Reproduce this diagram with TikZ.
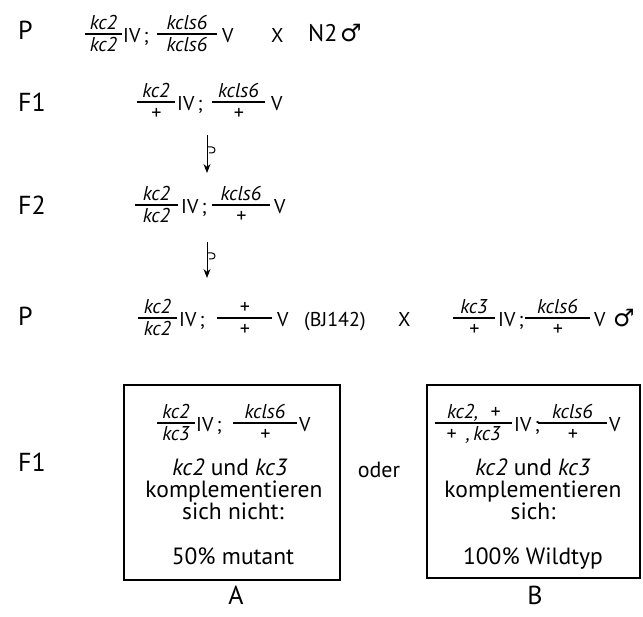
\documentclass[tikz,border=0pt]{standalone}
\usepackage{fontspec}
\setmainfont{PT Sans}
\newfontfamily\symfont{DejaVu Sans}
\usetikzlibrary{arrows.meta}
% name, x-centre, bar y, bar width, numerator, denominator
\newcommand\gfrac[6]{%
  \node[gnum] (#1n) at (#2,#3) {#5};
  \node[gden] (#1d) at (#2,#3) {#6};
  \draw[gbar] ({#2-#4/2},#3) -- ({#2+#4/2},#3);}
\begin{document}
\begin{tikzpicture}[x=1pt,y=-1pt,
  lab/.style={font=\fontsize{26}{28}\selectfont, anchor=base west, inner sep=0},
  gnum/.style={font=\fontsize{20}{22}\selectfont\itshape, anchor=base, inner sep=0, yshift=4pt},
  gden/.style={font=\fontsize{20}{22}\selectfont\itshape, anchor=base, inner sep=0, yshift=-18pt},
  gbar/.style={line width=1.1pt},
  gtxt/.style={font=\fontsize{20}{22}\selectfont, anchor=base west, inner sep=0},
  ctxt/.style={font=\fontsize{23.5}{25}\selectfont, anchor=base, inner sep=0},
  male/.style={font=\symfont\fontsize{24}{26}\selectfont, anchor=base west, inner sep=0},
  resbox/.style={draw, line width=1.6pt},
  self/.style={line width=1pt, -{Stealth[length=9pt,width=7pt]}},
  flag/.style={line width=1pt}]
\useasboundingbox (0,0) rectangle (643,617);

% ---- row 1: P
\node[lab] (p1) at (18,40) {P};
\gfrac{r1a}{103.5}{34}{37}{kc2}{kc2}
\node[gtxt] (r1iv) at (123,43) {IV\,;};
\gfrac{r1b}{187}{34}{60}{kcls6}{kcls6}
\node[gtxt] (r1v) at (222,43) {V};
\node[gtxt] (r1x) at (271,43) {X};
\node[lab, font=\fontsize{24}{26}\selectfont] (r1n) at (308,42) {N2};
\node[male] (r1m) at (340,42) {♂};

% ---- row 2: F1
\node[lab] (f1) at (18,112) {F1};
\gfrac{r2a}{156}{102}{38}{kc2}{+}
\node[gtxt] (r2iv) at (177,111) {IV\,;};
\gfrac{r2b}{238.5}{102}{53}{kcls6}{+}
\node[gtxt] (r2v) at (271,111) {V};

% selfing arrow 1
\coordinate (s1a) at (207,135);
\coordinate (s1b) at (207,173);
\draw[self] (s1a) -- (s1b);
\draw[flag] (207,147) -- (212,147) arc[start angle=90,end angle=-90,radius=3pt] -- (209,153);

% ---- row 3: F2
\node[lab] (f2) at (18,215) {F2};
\gfrac{r3a}{156.5}{205}{43}{kc2}{kc2}
\node[gtxt] (r3iv) at (181,214) {IV\,;};
\gfrac{r3b}{241}{205}{58}{kcls6}{+}
\node[gtxt] (r3v) at (274,214) {V};

% selfing arrow 2
\coordinate (s2a) at (207,242);
\coordinate (s2b) at (207,278);
\draw[self] (s2a) -- (s2b);
\draw[flag] (207,253) -- (212,253) arc[start angle=90,end angle=-90,radius=3pt] -- (209,259);

% ---- row 4: P cross
\node[lab] (p2) at (18,326) {P};
\gfrac{r4a}{157.5}{318}{39}{kc2}{kc2}
\node[gtxt] (r4iv) at (179,327) {IV\,;};
\gfrac{r4b}{244.5}{318}{55}{+}{+}
\node[gtxt] (r4v) at (277,327) {V};
\node[gtxt] (r4bj) at (304,327) {(BJ142)};
\node[gtxt] (r4x) at (398,327) {X};
\gfrac{r4c}{474}{318}{42}{kc3}{+}
\node[gtxt] (r4iv2) at (498,327) {IV\,;};
\gfrac{r4d}{557.5}{318}{65}{kcls6}{+}
\node[gtxt] (r4v2) at (594,327) {V};
\node[male] (r4m) at (613,327) {♂};

% ---- row 5: F1 results
\node[lab] (f1b) at (18,472) {F1};

\node[resbox, minimum width=216pt, minimum height=195pt] (boxA) at (232,482.5) {};
\gfrac{bAa}{176}{423}{38}{kc2}{kc3}
\node[gtxt] (bAiv) at (196,432) {IV\,;};
\gfrac{bAb}{265}{423}{64}{kcls6}{+}
\node[gtxt] (bAv) at (299,432) {V};
\node[ctxt] (bA1) at (230,476) {\textit{kc2} und \textit{kc3}};
\node[ctxt] (bA2) at (234,498) {komplementieren};
\node[ctxt] (bA3) at (233,520) {sich nicht:};
\node[ctxt] (bA4) at (233,564) {50\% mutant};
\node[lab, anchor=base] (la) at (236,604) {A};

\node[ctxt, font=\fontsize{22}{24}\selectfont] (oder) at (379,478) {oder};

\node[resbox, minimum width=213pt, minimum height=193pt] (boxB) at (533.5,481.5) {};
\gfrac{bBa}{473.5}{423}{77}{kc2,\hspace{0.6em}+}{+\hspace{0.5em},\,kc3}
\node[gtxt] (bBiv) at (514,432) {IV\,;};
\gfrac{bBb}{572.5}{423}{69}{kcls6}{+}
\node[gtxt] (bBv) at (609,432) {V};
\node[ctxt] (bB1) at (533,476) {\textit{kc2} und \textit{kc3}};
\node[ctxt] (bB2) at (533,498) {komplementieren};
\node[ctxt] (bB3) at (533,520) {sich:};
\node[ctxt] (bB4) at (533,564) {100\% Wildtyp};
\node[lab, anchor=base] (lb) at (535,604) {B};
\end{tikzpicture}
\end{document}
